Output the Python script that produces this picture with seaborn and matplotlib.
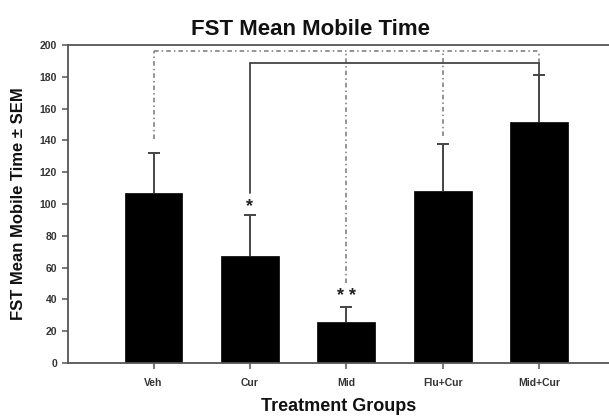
import matplotlib
matplotlib.use("Agg")
import matplotlib.pyplot as plt
import seaborn as sns
import pandas as pd
import numpy as np

groups = ["Veh", "Cur", "Mid", "Flu+Cur", "Mid+Cur"]
mean_time = [107, 67, 26, 108.5, 151.5]
sem = [25, 26, 9, 29.5, 29.5]
y_ticks = [0, 20, 40, 60, 80, 100, 120, 140, 160, 180, 200]

# comparison brackets: (group, lower end) pairs joined at a common height
dashdot_level = 196
dashdot_drops = [("Veh", 141), ("Mid", 50.5), ("Flu+Cur", 142.5), ("Mid+Cur", 189)]
solid_level = 189
solid_drops = [("Cur", 107), ("Mid+Cur", 181)]
stars = [("Cur", 98.5, "*"), ("Mid", 42, "* *")]

sns.set_theme(style="white")
plt.rcParams["font.family"] = ["Liberation Sans", "DejaVu Sans"]

df = pd.DataFrame({"group": groups, "mean": mean_time, "sem": sem})

fig = plt.figure(figsize=(6.09, 4.20), dpi=100)
ax = fig.add_axes([0.1117, 0.1357, 0.8883, 0.7571])

sns.barplot(data=df, x="group", y="mean", order=groups, color="black",
            width=0.6, errorbar=None, ax=ax, saturation=1)
for p in ax.patches:
    p.set_edgecolor("black")
    p.set_linewidth(0.5)
    p.set_zorder(2)

pos = {g: i for i, g in enumerate(groups)}
xs = [pos[g] for g in groups]
eb = ax.errorbar(xs, mean_time, yerr=[[0] * len(sem), sem], fmt="none",
                 ecolor="#444444", elinewidth=1.4, capsize=4, capthick=1.4, zorder=1)
# keep only the upper caps of the one-sided SEM bars
for cl in eb[1]:
    if np.allclose(np.asarray(cl.get_ydata(), dtype=float), mean_time):
        cl.remove()

# dash-dot bracket
ax.plot([pos[dashdot_drops[0][0]], pos[dashdot_drops[-1][0]]],
        [dashdot_level, dashdot_level], color="#777777", lw=1.1,
        linestyle=(0, (3, 2, 1, 2)), zorder=2)
for g, low in dashdot_drops:
    ax.plot([pos[g], pos[g]], [low, dashdot_level], color="#777777", lw=1.1,
            linestyle=(0, (3, 2, 1, 2)), zorder=2)

# solid bracket
ax.plot([pos[solid_drops[0][0]], pos[solid_drops[-1][0]]],
        [solid_level, solid_level], color="#444444", lw=1.3, zorder=2)
for g, low in solid_drops:
    ax.plot([pos[g], pos[g]], [low, solid_level], color="#444444", lw=1.3, zorder=2)

for g, y, s in stars:
    ax.text(pos[g], y, s, ha="center", va="center", fontsize=13,
            fontweight="bold", color="#222222")

ax.set_xlim(-0.887, 4.725)
ax.set_ylim(0, 200)
ax.set_yticks(y_ticks)
ax.set_yticklabels([str(t) for t in y_ticks])

for side in ["left", "bottom", "top"]:
    ax.spines[side].set_visible(True)
    ax.spines[side].set_color("#555555")
    ax.spines[side].set_linewidth(1.3)
ax.spines["right"].set_visible(False)

ax.tick_params(axis="both", which="both", direction="out", length=4, width=1.1,
               color="#555555", labelsize=7.5, labelcolor="#333333", pad=4)
ax.tick_params(axis="y", left=True)
ax.tick_params(axis="x", bottom=True, pad=7)
for lab in ax.get_xticklabels() + ax.get_yticklabels():
    lab.set_fontweight("bold")

ax.set_xlabel("Treatment Groups", fontsize=13, fontweight="bold",
              color="#111111", labelpad=7)
ax.set_ylabel("FST Mean Mobile Time \u00b1 SEM", fontsize=12, fontweight="bold",
              color="#111111", labelpad=10)
fig.text(0.51, 0.93, "FST Mean Mobile Time", ha="center", va="center",
         fontsize=16, fontweight="bold", color="#111111")

fig.savefig("out.png", dpi=100)
